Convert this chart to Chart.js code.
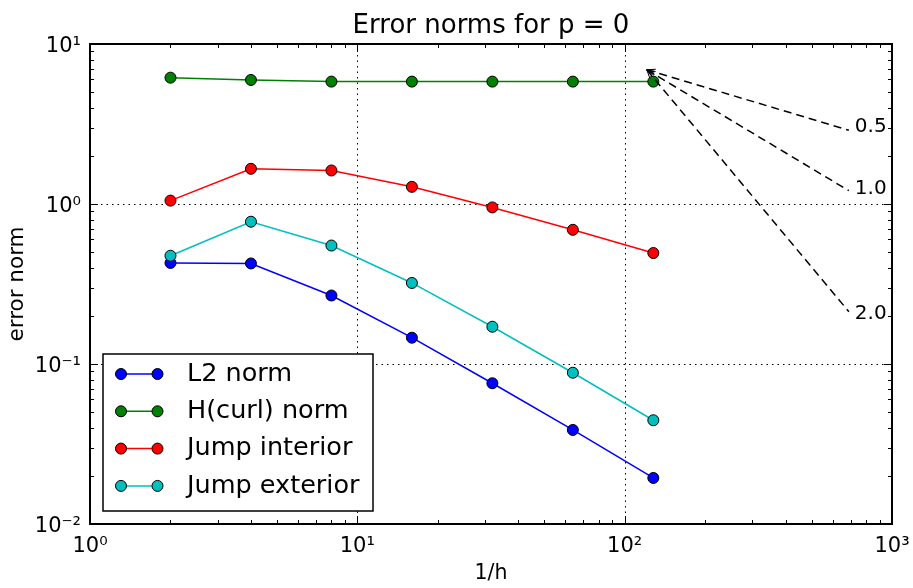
<!DOCTYPE html>
<html>
<head>
<meta charset="utf-8">
<script src="https://cdn.jsdelivr.net/npm/chart.js@4"></script>
<style>
  body { margin: 0; background: #fff; }
  #wrap { width: 913px; height: 588px; }
</style>
</head>
<body>
<div id="wrap"><canvas id="errorNormsChart" width="913" height="588"></canvas></div>
<script>
// Refinement levels (1/h) and the error norms
const invH = [2, 4, 8, 16, 32, 64, 128];
const l2Norm = [0.428, 0.425, 0.268, 0.146, 0.0758, 0.0387, 0.0194];
const hcurlNorm = [6.16, 5.96, 5.82, 5.82, 5.82, 5.82, 5.82];
const jumpInterior = [1.05, 1.66, 1.62, 1.28, 0.952, 0.69, 0.494];
const jumpExterior = [0.475, 0.775, 0.55, 0.321, 0.171, 0.0882, 0.0445];

const xTicks = [1, 10, 100, 1000];
const xTickLabels = ['10⁰', '10¹', '10²', '10³'];
const yTicks = [0.01, 0.1, 1, 10];
const yTickLabels = ['10⁻²', '10⁻¹', '10⁰', '10¹'];

// Reference slopes shown as dashed guides
const slopes = [0.5, 1.0, 2.0];
const slopeLabels = ['0.5', '1.0', '2.0'];
const slopeOrigin = { x: 121, y: 6.9 };

const FONT = 'DejaVu Sans';

function series(label, values, color, order) {
  return {
    label,
    data: invH.map((x, i) => ({ x, y: values[i] })),
    borderColor: color,
    backgroundColor: color,
    pointBackgroundColor: color,
    pointBorderColor: '#000',
    pointBorderWidth: 1,
    pointRadius: 5.5,
    borderWidth: 1.5,
    order,
  };
}

function minorValues(decades) {
  const out = [];
  decades.forEach((d) => { for (let m = 2; m <= 9; m++) out.push(d * m); });
  return out;
}

// Grid, ticks, frame, slope guides and the in-axes legend
const axesDecor = {
  id: 'axesDecor',
  beforeDatasetsDraw(chart) {
    const { ctx, chartArea: a, scales: { x, y } } = chart;
    ctx.save();
    ctx.strokeStyle = '#000';
    ctx.lineWidth = 1;
    ctx.setLineDash([1.5, 4]);
    xTicks.forEach((v) => {
      const px = Math.round(x.getPixelForValue(v)) + 0.5;
      ctx.beginPath(); ctx.moveTo(px, a.top); ctx.lineTo(px, a.bottom); ctx.stroke();
    });
    yTicks.forEach((v) => {
      const py = Math.round(y.getPixelForValue(v)) + 0.5;
      ctx.beginPath(); ctx.moveTo(a.left, py); ctx.lineTo(a.right, py); ctx.stroke();
    });
    ctx.restore();
  },
  afterDatasetsDraw(chart) {
    const { ctx, chartArea: a, scales: { x, y } } = chart;
    ctx.save();

    // slope guides
    const x0 = x.getPixelForValue(slopeOrigin.x);
    const y0 = y.getPixelForValue(slopeOrigin.y);
    ctx.strokeStyle = '#000';
    ctx.fillStyle = '#000';
    ctx.lineWidth = 1.5;
    ctx.font = '20px "' + FONT + '"';
    ctx.textAlign = 'left';
    ctx.textBaseline = 'alphabetic';
    slopes.forEach((s, i) => {
      const x1 = x.getPixelForValue(slopeOrigin.x * 5.7);
      const y1 = y.getPixelForValue(slopeOrigin.y / Math.pow(5.7, s));
      ctx.setLineDash([8, 5]);
      ctx.beginPath(); ctx.moveTo(x0, y0); ctx.lineTo(x1, y1); ctx.stroke();
      ctx.setLineDash([]);
      const ang = Math.atan2(y1 - y0, x1 - x0);
      ctx.lineWidth = 1;
      ctx.beginPath();
      ctx.moveTo(x0 + 9 * Math.cos(ang - 0.35), y0 + 9 * Math.sin(ang - 0.35));
      ctx.lineTo(x0, y0);
      ctx.lineTo(x0 + 9 * Math.cos(ang + 0.35), y0 + 9 * Math.sin(ang + 0.35));
      ctx.stroke();
      ctx.lineWidth = 1.5;
      const tx = x.getPixelForValue(slopeOrigin.x * 6);
      const ty = y.getPixelForValue(slopeOrigin.y / Math.pow(6, s));
      ctx.fillText(slopeLabels[i], tx, ty);
    });

    // tick marks on all four sides, pointing inward
    ctx.lineWidth = 1;
    const tickX = (v, len) => {
      const px = Math.round(x.getPixelForValue(v)) + 0.5;
      ctx.beginPath();
      ctx.moveTo(px, a.bottom); ctx.lineTo(px, a.bottom - len);
      ctx.moveTo(px, a.top); ctx.lineTo(px, a.top + len);
      ctx.stroke();
    };
    const tickY = (v, len) => {
      const py = Math.round(y.getPixelForValue(v)) + 0.5;
      ctx.beginPath();
      ctx.moveTo(a.left, py); ctx.lineTo(a.left + len, py);
      ctx.moveTo(a.right, py); ctx.lineTo(a.right - len, py);
      ctx.stroke();
    };
    xTicks.forEach((v) => tickX(v, 8));
    minorValues([1, 10, 100]).forEach((v) => tickX(v, 4));
    yTicks.forEach((v) => tickY(v, 8));
    minorValues([0.01, 0.1, 1]).forEach((v) => tickY(v, 4));

    // frame
    ctx.lineWidth = 2;
    ctx.strokeRect(a.left, a.top, a.right - a.left, a.bottom - a.top);

    // legend box in the lower left corner
    const bx = a.left + 13, bw = 270, bh = 157;
    const by = a.bottom - 13 - bh;
    ctx.fillStyle = '#fff';
    ctx.fillRect(bx, by, bw, bh);
    ctx.lineWidth = 1.5;
    ctx.strokeStyle = '#000';
    ctx.strokeRect(bx, by, bw, bh);
    ctx.font = '25.5px "' + FONT + '"';
    ctx.textBaseline = 'middle';
    chart.data.datasets.forEach((ds, i) => {
      const ry = by + 20 + i * 37.3;
      const m1 = bx + 18, m2 = bx + 54.5;
      ctx.strokeStyle = ds.borderColor;
      ctx.lineWidth = 1.5;
      ctx.beginPath(); ctx.moveTo(m1, ry); ctx.lineTo(m2, ry); ctx.stroke();
      [m1, m2].forEach((mx) => {
        ctx.beginPath();
        ctx.arc(mx, ry, 5.5, 0, Math.PI * 2);
        ctx.fillStyle = ds.pointBackgroundColor;
        ctx.fill();
        ctx.strokeStyle = '#000';
        ctx.lineWidth = 1;
        ctx.stroke();
      });
      ctx.fillStyle = '#000';
      ctx.fillText(ds.label, bx + 84, ry);
    });
    ctx.restore();
  },
};

const ctxEl = document.getElementById('errorNormsChart');
new Chart(ctxEl, {
  type: 'line',
  data: {
    datasets: [
      series('L2 norm', l2Norm, '#0000ff', 3),
      series('H(curl) norm', hcurlNorm, '#008000', 2),
      series('Jump interior', jumpInterior, '#ff0000', 1),
      series('Jump exterior', jumpExterior, '#00bfbf', 0),
    ],
  },
  options: {
    responsive: false,
    animation: false,
    devicePixelRatio: 1,
    layout: { padding: { left: 0, right: 21, top: 0, bottom: 0 } },
    plugins: {
      legend: { display: false },
      tooltip: { enabled: false },
      title: {
        display: true,
        fullSize: false,
        text: 'Error norms for p = 0',
        color: '#000',
        font: { family: FONT, size: 26, weight: 'normal', lineHeight: 1.2 },
        padding: { top: 11, bottom: 1.8 },
      },
    },
    scales: {
      x: {
        type: 'logarithmic',
        min: 1,
        max: 1000,
        grid: { display: false, drawTicks: false },
        border: { display: false },
        afterBuildTicks: (scale) => { scale.ticks = xTicks.map((v) => ({ value: v, major: true })); },
        afterFit: (scale) => {
          scale.height = 64;
          scale.paddingLeft = 0;
          scale.paddingRight = 0;
        },
        ticks: {
          color: '#000',
          padding: 10,
          maxRotation: 0,
          font: { family: FONT, size: 21 },
          callback: (value) => xTickLabels[xTicks.indexOf(value)],
        },
        title: {
          display: true,
          text: '1/h',
          color: '#000',
          font: { family: FONT, size: 20.5 },
          padding: { top: 0, bottom: 2 },
        },
      },
      y: {
        type: 'logarithmic',
        min: 0.01,
        max: 10,
        grid: { display: false, drawTicks: false },
        border: { display: false },
        afterBuildTicks: (scale) => { scale.ticks = yTicks.map((v) => ({ value: v, major: true })); },
        afterFit: (scale) => {
          scale.width = 90;
          scale.paddingTop = 0;
          scale.paddingBottom = 0;
        },
        ticks: {
          color: '#000',
          padding: 9,
          labelOffset: 3,
          font: { family: FONT, size: 21 },
          callback: (value) => yTickLabels[yTicks.indexOf(value)],
        },
        title: {
          display: true,
          text: 'error norm',
          color: '#000',
          font: { family: FONT, size: 21.5 },
          padding: { top: 5, bottom: 0 },
        },
      },
    },
  },
  plugins: [axesDecor],
});
</script>
</body>
</html>
